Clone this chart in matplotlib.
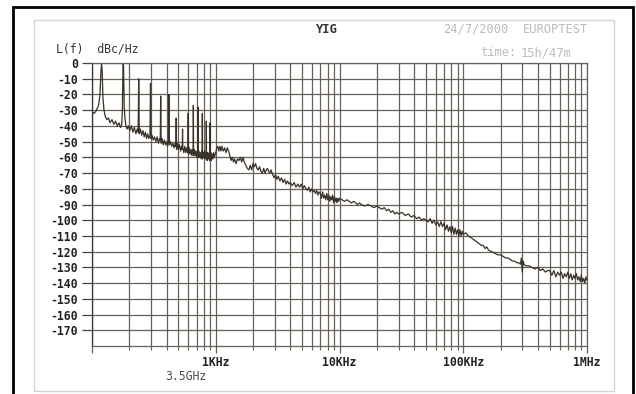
import matplotlib
matplotlib.use("Agg")
import matplotlib.pyplot as plt
from matplotlib.patches import Rectangle
from matplotlib.ticker import FixedLocator, LogLocator, NullFormatter

# offset frequency (Hz) and L(f) (dBc/Hz), one pair of lists per decade
f_dec1 = [100, 104, 107, 110, 113, 116, 118, 119.5, 121, 122.5, 125, 128, 132, 136, 140, 145, 150, 155,
          160, 165, 170, 174, 176, 178, 179, 180, 182, 185, 188, 192, 197, 202, 208, 214, 220, 226,
          232, 236, 238.5, 241, 246, 252, 258, 264, 270, 276, 282, 288, 294, 297, 300, 306, 312, 320,
          328, 336, 344, 352, 356, 359, 362, 368, 376, 384, 392, 400, 408, 414, 418, 422, 430, 440,
          450, 460, 470, 476, 479, 482, 490, 500, 510, 520, 530, 536, 539, 542, 552, 562, 572, 582,
          592, 596, 599, 602, 612, 622, 632, 642, 652, 657, 659, 662, 672, 682, 692, 702, 712, 717,
          719, 722, 732, 742, 752, 762, 772, 777, 779, 782, 792, 802, 812, 822, 832, 837, 839, 842,
          852, 862, 872, 882, 892, 897, 899, 902, 912, 922, 935, 948, 960, 975, 990]
l_dec1 = [-31, -32, -31, -29, -27, -20, -6, 0, -6, -22, -30, -34, -36, -35, -38, -36, -39, -37,
          -40, -38, -41, -39, -30, -2, 0, -3, -28, -36, -40, -42, -40, -43, -40, -44, -41, -45,
          -42, -44, -10, -45, -42, -46, -43, -47, -44, -48, -45, -48, -46, -13, -48, -46, -49, -47,
          -50, -47, -51, -48, -49, -21, -51, -48, -52, -49, -52, -50, -53, -50, -20, -52, -50, -53,
          -51, -54, -51, -53, -35, -55, -51, -55, -52, -56, -53, -55, -42, -54, -57, -53, -57, -54,
          -57, -55, -32, -58, -54, -58, -55, -59, -55, -57, -27, -59, -55, -59, -56, -60, -56, -58,
          -28, -60, -56, -60, -57, -61, -56, -59, -32, -61, -57, -60, -56, -61, -57, -60, -37, -58,
          -62, -57, -61, -58, -62, -59, -38, -61, -57, -62, -58, -61, -57, -60, -58]

f_dec2 = [1000, 1020, 1040, 1060, 1080, 1100, 1120, 1150, 1180, 1210, 1240, 1270, 1300, 1330, 1360,
          1390, 1420, 1460, 1500, 1540, 1580, 1620, 1660, 1700, 1750, 1800, 1850, 1900, 1950, 2000,
          2050, 2100, 2150, 2200, 2260, 2320, 2380, 2440, 2500, 2560, 2620, 2680, 2740, 2800, 2880,
          2960, 3040, 3120, 3200, 3300, 3400, 3500, 3600, 3700, 3800, 3900, 4000, 4150, 4300, 4450,
          4600, 4750, 4900, 5050, 5200, 5350, 5500, 5650, 5800, 5950, 6100, 6250, 6400, 6550, 6700,
          6850, 7000, 7150, 7300, 7450, 7600, 7750, 7900, 8050, 8200, 8350, 8500, 8650, 8800, 8950,
          9100, 9250, 9400, 9550, 9700, 9850]
l_dec2 = [-57, -54, -53, -56, -53, -56, -53, -56, -54, -57, -54, -56, -59, -62, -60,
          -63, -61, -64, -61, -62, -60, -63, -60, -63, -65, -67, -68, -65, -68, -64,
          -66, -64, -67, -68, -66, -69, -70, -67, -70, -68, -67, -69, -70, -68, -71,
          -73, -71, -74, -72, -75, -73, -76, -74, -77, -75, -77, -76, -78, -76, -79,
          -77, -79, -77, -80, -78, -80, -81, -79, -82, -80, -82, -81, -83, -81, -84,
          -82, -83, -86, -82, -86, -84, -87, -83, -87, -84, -88, -85, -87, -84, -89,
          -85, -88, -86, -89, -86, -88]

f_dec3 = [10000, 10500, 11000, 11500, 12000, 12500, 13000, 13500, 14000, 14500, 15000, 16000, 17000,
          18000, 19000, 20000, 21000, 22000, 23000, 24000, 25000, 26000, 27000, 28000, 29000, 30000,
          32000, 34000, 36000, 38000, 40000, 42000, 44000, 46000, 48000, 50000, 52000, 54000, 56000,
          58000, 60000, 62000, 64000, 66000, 68000, 70000, 72000, 74000, 76000, 78000, 80000, 82000,
          84000, 86000, 88000, 90000, 92000, 94000, 96000, 98000]
l_dec3 = [-86, -87, -88, -87, -88, -89, -88, -89, -90, -89, -90, -91, -90,
          -91, -92, -91, -92, -93, -92, -94, -93, -95, -94, -96, -95, -96,
          -95, -97, -96, -98, -97, -99, -98, -100, -99, -100, -101, -99, -102,
          -100, -103, -101, -104, -101, -104, -102, -106, -103, -107, -104, -108, -104,
          -109, -105, -109, -106, -110, -106, -110, -107]

f_dec4 = [100000, 105000, 110000, 115000, 120000, 125000, 130000, 135000, 140000, 145000, 150000,
          155000, 160000, 170000, 180000, 190000, 200000, 210000, 220000, 230000, 240000, 250000,
          260000, 270000, 280000, 290000, 295000, 300000, 305000, 310000, 320000, 340000, 360000,
          380000, 400000, 420000, 440000, 460000, 480000, 500000, 520000, 540000, 560000, 580000,
          600000, 620000, 640000, 660000, 680000, 700000, 720000, 740000, 760000, 780000, 800000,
          820000, 840000, 860000, 880000, 900000, 920000, 940000, 960000, 980000, 1000000]
l_dec4 = [-109, -108, -110, -111, -112, -113, -114, -115, -116, -116, -118,
          -117, -119, -120, -121, -122, -122, -123, -124, -124, -125, -126,
          -126, -127, -127, -128, -124, -133, -126, -128, -129, -129, -130,
          -131, -130, -132, -131, -133, -132, -132, -135, -132, -136, -133,
          -135, -133, -137, -134, -136, -133, -137, -134, -138, -135, -137,
          -134, -138, -136, -139, -135, -139, -137, -140, -136, -138]

y_ticks = list(range(-170, 10, 10))
x_ticks = [100, 1e3, 1e4, 1e5, 1e6]
x_labels = ["", "1KHz", "10KHz", "100KHz", "1MHz"]

freq = f_dec1 + f_dec2 + f_dec3 + f_dec4
lf = l_dec1 + l_dec2 + l_dec3 + l_dec4

W, H = 636, 394
grid_c = "#65615a"
mono = "DejaVu Sans Mono"

fig = plt.figure(figsize=(W / 100, H / 100), dpi=100)
fig.patch.set_facecolor("white")

# outer black frame and the light inner panel
fig.patches.append(Rectangle((13 / W, -0.02), 620 / W, 1.02 - 7 / H, transform=fig.transFigure,
                             fill=False, edgecolor="black", lw=2, zorder=-5))
fig.patches.append(Rectangle((34 / W, 1 - 391 / H), 580 / W, 371 / H, transform=fig.transFigure,
                             facecolor="white", edgecolor="#d4d4d4", lw=1, zorder=-6))

ax = fig.add_axes([92 / W, 1 - 346 / H, 495 / W, 283 / H])
ax.set_xscale("log")
ax.set_xlim(100, 1e6)
ax.set_ylim(-180, 0)

ax.plot(freq, lf, color="#3a3226", lw=0.9)

ax.set_yticks(y_ticks)
ax.set_yticklabels([str(v) for v in y_ticks])
ax.xaxis.set_major_locator(FixedLocator(x_ticks))
ax.set_xticklabels(x_labels)
ax.xaxis.set_minor_locator(LogLocator(base=10, subs=range(2, 10)))
ax.xaxis.set_minor_formatter(NullFormatter())

ax.grid(True, axis="x", which="both", color=grid_c, lw=0.9)
ax.grid(True, axis="y", which="major", color=grid_c, lw=0.9)
for s in ax.spines.values():
    s.set_color(grid_c)
    s.set_linewidth(0.9)
ax.spines["left"].set_color("#333333")

ax.tick_params(axis="y", direction="out", length=7, width=0.9, color="#444444", pad=3,
               labelsize=8.3, labelcolor="#222222")
ax.tick_params(axis="x", which="major", direction="out", length=5, width=0.9, color=grid_c,
               pad=2, labelsize=8.3, labelcolor="#222222")
ax.tick_params(axis="x", which="minor", direction="out", length=3, width=0.8, color=grid_c)
for lab in ax.get_xticklabels() + ax.get_yticklabels():
    lab.set_fontfamily(mono)
    lab.set_fontweight("bold")

def px_text(x, y, s, **kw):
    fig.text(x / W, 1 - y / H, s, family=mono, va="baseline", **kw)

px_text(56, 53, "L(f)  dBc/Hz", fontsize=8.3, color="#333333")
px_text(316, 33, "YIG", fontsize=8.7, weight="bold", color="#333333")
px_text(443, 33, "24/7/2000", fontsize=8.7, color="#bcbcbc")
px_text(523, 33, "EUROPTEST", fontsize=8.7, color="#bcbcbc")
px_text(480, 56, "time:", fontsize=8.7, color="#bcbcbc")
px_text(521, 56, "15h/47m", fontsize=8.7, color="#bcbcbc")
px_text(165, 380, "3.5GHz", fontsize=8.3, color="#4a4a4a")

fig.savefig("out.png", dpi=100)
